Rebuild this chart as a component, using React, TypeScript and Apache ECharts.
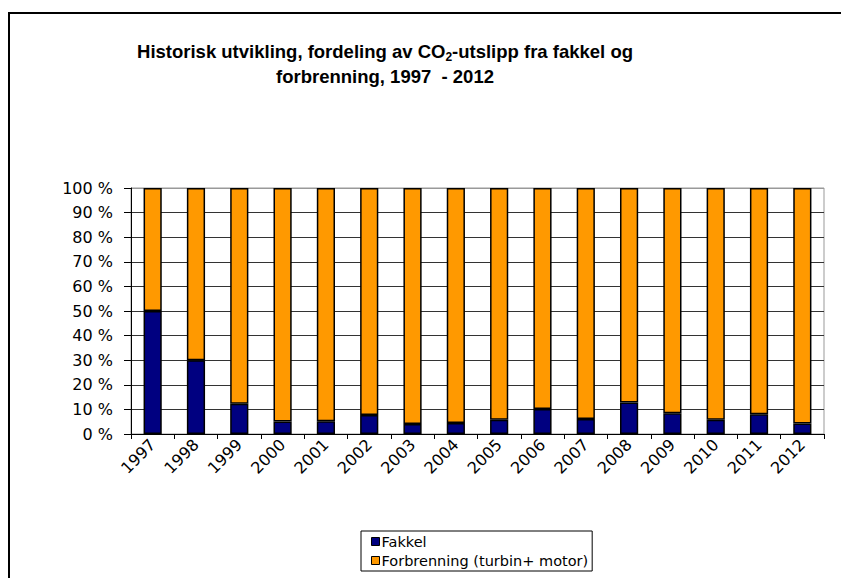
import React, { useEffect, useRef } from "react";
import * as echarts from "echarts";

// Years on the category axis
const years = [
  "1997", "1998", "1999", "2000", "2001", "2002", "2003", "2004",
  "2005", "2006", "2007", "2008", "2009", "2010", "2011", "2012",
];

// Share of CO2 emissions from flaring (%)
const fakkel = [50, 30, 12.3, 5.1, 5.2, 7.7, 4.1, 4.5, 5.8, 10.2, 6.1, 12.8, 8.4, 5.8, 8.0, 4.3];

// Share from combustion (turbines + engines) makes up the rest of 100 %
const forbrenning = fakkel.map((v) => +(100 - v).toFixed(1));

const seriesNames = ["Fakkel", "Forbrenning (turbin+ motor)"];
const seriesColors = ["#000080", "#FF9900"];

const TITLE_FONT = "'Liberation Sans', Arial, sans-serif";
const AXIS_FONT = "'DejaVu Sans', Arial, sans-serif";

export default function App() {
  const ref = useRef<HTMLDivElement>(null);

  useEffect(() => {
    if (!ref.current) return;
    const chart = echarts.init(ref.current, undefined, { renderer: "svg" });

    // 10 dark grid lines, the 100 % line matches the grey plot frame
    const gridColors = [
      "#333", "#333", "#333", "#333", "#333", "#333",
      "#333", "#333", "#333", "#333", "#999",
    ];

    chart.setOption({
      animation: false,
      backgroundColor: "#fff",
      textStyle: { fontFamily: AXIS_FONT },
      title: {
        text:
          "Historisk utvikling, fordeling av CO{sub|2}-utslipp fra fakkel og\nforbrenning, 1997  - 2012",
        left: 380,
        top: 34,
        textAlign: "center",
        textStyle: {
          fontFamily: TITLE_FONT,
          fontSize: 18.5,
          fontWeight: "bold",
          color: "#000",
          lineHeight: 25,
          rich: {
            sub: {
              fontFamily: TITLE_FONT,
              fontSize: 12,
              fontWeight: "bold",
              color: "#000",
              lineHeight: 25,
              padding: [10, 0, 0, 0],
            },
          },
        },
      },
      graphic: [
        {
          type: "rect",
          shape: { x: 9, y: 13, width: 900, height: 700 },
          style: { fill: "none", stroke: "#000", lineWidth: 2 },
          silent: true,
          z: 100,
        },
      ],
      grid: {
        left: 131,
        top: 188,
        right: 17,
        bottom: 144,
        show: true,
        borderColor: "#999",
        borderWidth: 1,
      },
      legend: {
        orient: "vertical",
        left: 361,
        top: 531,
        padding: [3, 4, 3, 10],
        itemGap: 4,
        itemWidth: 8,
        itemHeight: 8,
        icon: "rect",
        borderColor: "#000",
        borderWidth: 1,
        itemStyle: { borderColor: "#000", borderWidth: 1 },
        textStyle: { fontFamily: AXIS_FONT, fontSize: 14.5, color: "#000", padding: [0, 0, 0, -3] },
        data: seriesNames,
      },
      xAxis: {
        type: "category",
        data: years,
        boundaryGap: true,
        axisLine: { lineStyle: { color: "#000", width: 1 } },
        axisTick: { show: true, alignWithLabel: false, length: 5, lineStyle: { color: "#000" } },
        axisLabel: {
          rotate: 45,
          fontFamily: AXIS_FONT,
          fontSize: 16,
          color: "#000",
          margin: 8,
          interval: 0,
        },
        splitLine: { show: false },
      },
      yAxis: {
        type: "value",
        min: 0,
        max: 100,
        interval: 10,
        axisLine: { show: true, lineStyle: { color: "#000", width: 1 } },
        axisTick: { show: true, length: 7, lineStyle: { color: "#000" } },
        axisLabel: {
          fontFamily: AXIS_FONT,
          fontSize: 16,
          color: "#000",
          margin: 18,
          formatter: (v: number) => `${v} %`,
        },
        splitLine: { show: true, lineStyle: { color: gridColors, width: 1 } },
      },
      series: [
        {
          name: seriesNames[0],
          type: "bar",
          stack: "total",
          data: fakkel,
          barWidth: "42%",
          itemStyle: { color: seriesColors[0], borderColor: "#000", borderWidth: 1.5 },
        },
        {
          name: seriesNames[1],
          type: "bar",
          stack: "total",
          data: forbrenning,
          barWidth: "42%",
          itemStyle: { color: seriesColors[1], borderColor: "#000", borderWidth: 1.5 },
        },
      ],
    });

    return () => chart.dispose();
  }, []);

  return (
    <div
      ref={ref}
      style={{ position: "fixed", left: 0, top: 0, width: 841, height: 578, background: "#fff" }}
    />
  );
}
